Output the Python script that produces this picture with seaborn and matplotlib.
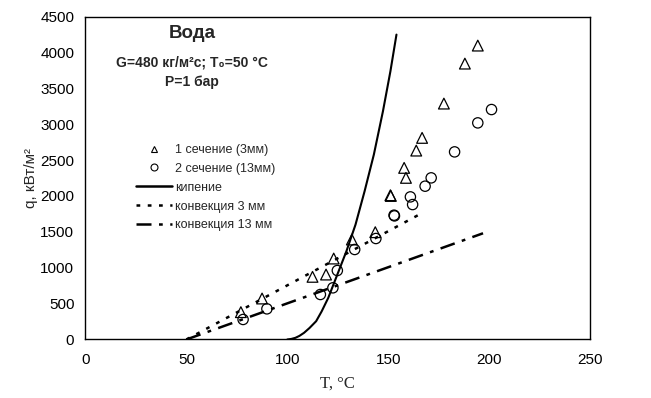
import matplotlib
matplotlib.use("Agg")
import matplotlib.pyplot as plt
import seaborn as sns
from matplotlib.lines import Line2D

# 1 сечение (3мм) - triangles
t_sec1 = [77.0, 87.5, 112.5, 119.2, 123.0, 132.0, 143.6, 151.1, 151.3, 157.9, 158.8, 163.9, 166.8, 177.6, 188.0, 194.4]
q_sec1 = [381, 571, 873, 905, 1128, 1393, 1495, 2010, 2000, 2391, 2252, 2632, 2809, 3287, 3844, 4095]

# 2 сечение (13мм) - circles
t_sec2 = [78.1, 89.9, 116.4, 122.6, 124.8, 133.4, 143.9, 152.9, 153.1, 161.0, 162.1, 168.3, 171.3, 182.9, 194.4, 201.2]
q_sec2 = [279, 427, 627, 720, 961, 1254, 1407, 1732, 1722, 1987, 1880, 2136, 2252, 2614, 3018, 3204]

# кипение curve
t_boil = [100, 102, 104, 106, 108.3, 111, 114.3, 117, 120.3, 124.8, 129.3, 133.8, 138.3, 142.9, 147.4, 151.1, 154.1]
q_boil = [0, 8, 23, 50, 93, 160, 255, 390, 580, 905, 1230, 1600, 2065, 2577, 3180, 3737, 4248]

# convection lines
t_conv3 = [50, 166]
q_conv3 = [0, 1750]
t_conv13 = [50, 197]
q_conv13 = [0, 1480]

sns.set_style("white")
plt.rcParams["font.family"] = ["Liberation Sans", "DejaVu Sans"]

fig = plt.figure(figsize=(6.51, 3.98), dpi=100)
ax = fig.add_axes([0.1313, 0.147, 0.775, 0.8115])

sns.lineplot(x=t_boil, y=q_boil, ax=ax, color="black", lw=1.5, sort=False, estimator=None)
sns.lineplot(x=t_conv3, y=q_conv3, ax=ax, color="black", lw=1.8, linestyle=(0, (1.5, 3)), sort=False, estimator=None)
sns.lineplot(x=t_conv13, y=q_conv13, ax=ax, color="black", lw=1.8, linestyle=(0, (6, 3, 1.5, 3)), sort=False, estimator=None)

sns.scatterplot(x=t_sec1, y=q_sec1, ax=ax, marker="^", s=60, facecolor="none", edgecolor="black", linewidth=0.9)
sns.scatterplot(x=t_sec2, y=q_sec2, ax=ax, marker="o", s=55, facecolor="none", edgecolor="black", linewidth=0.9)

ax.set_xlim(0, 250)
ax.set_ylim(0, 4500)
ax.set_xticks(range(0, 251, 50))
ax.set_yticks(range(0, 4501, 500))
ax.tick_params(direction="in", length=4, width=0.8, labelsize=11, colors="black")
ax.tick_params(axis="x", pad=10)
ax.tick_params(axis="y", pad=8)
for sp in ax.spines.values():
    sp.set_color("black")
    sp.set_linewidth(1.0)

ax.set_xlabel("T, °C", family=["Liberation Serif", "DejaVu Serif"], fontsize=12, labelpad=6)
ax.set_ylabel("q, кВт/м²", fontsize=11, labelpad=2)

ax.text(0.211, 0.946, "Вода", transform=ax.transAxes, ha="center", va="center", fontsize=13.5, fontweight="bold")
ax.text(0.211, 0.859, "G=480 кг/м²с; T₀=50 °C", transform=ax.transAxes, ha="center", va="center", fontsize=10, fontweight="bold")
ax.text(0.211, 0.797, "P=1 бар", transform=ax.transAxes, ha="center", va="center", fontsize=10, fontweight="bold")

handles = [
    Line2D([], [], marker="^", ls="none", mfc="none", mec="black", ms=5, mew=0.8),
    Line2D([], [], marker="o", ls="none", mfc="none", mec="black", ms=5, mew=0.8),
    Line2D([], [], color="black", lw=1.8),
    Line2D([], [], color="black", lw=1.8, ls=(0, (1.5, 3))),
    Line2D([], [], color="black", lw=1.8, ls=(0, (6, 3, 1.5, 3))),
]
labels = ["1 сечение (3мм)", "2 сечение (13мм)", "кипение", "конвекция 3 мм", "конвекция 13 мм"]
ax.legend(handles, labels, loc="upper left", bbox_to_anchor=(0.088, 0.625), frameon=False,
          fontsize=9, handlelength=2.9, handletextpad=0.2, labelspacing=0.55, borderpad=0)

fig.savefig("out.png", dpi=100)
